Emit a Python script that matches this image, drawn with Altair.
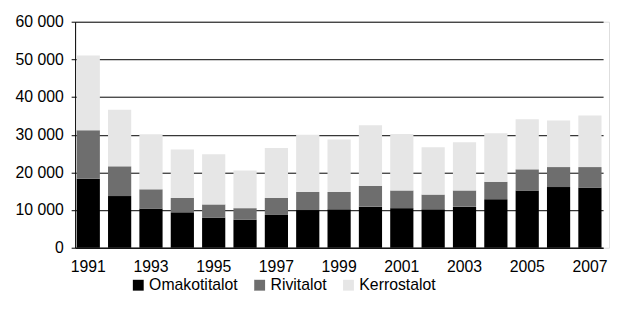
import altair as alt
import pandas as pd

years = [str(y) for y in range(1991, 2008)]
omakotitalot = [18300, 13700, 10400, 9400, 8000, 7400, 8700, 10000, 10200, 10900, 10500, 10200, 10900, 12900, 15200, 16100, 15900]
rivitalot = [12900, 7900, 5100, 3800, 3500, 3100, 4500, 4800, 4600, 5500, 4700, 3900, 4300, 4600, 5600, 5300, 5500]
kerrostalot = [19800, 15000, 14600, 12900, 13300, 10000, 13300, 15200, 13900, 16100, 15000, 12600, 12800, 12900, 13300, 12400, 13700]
series = ["Omakotitalot", "Rivitalot", "Kerrostalot"]
colors = ["#000000", "#6e6e6e", "#e6e6e6"]
x_labels = [str(y) for y in range(1991, 2008, 2)]
y_ticks = [0, 10000, 20000, 30000, 40000, 50000, 60000]

rows = []
for i, yr in enumerate(years):
    for k, (name, vals) in enumerate(zip(series, [omakotitalot, rivitalot, kerrostalot])):
        rows.append({"vuosi": yr, "tyyppi": name, "arvo": vals[i], "jarj": k})
df = pd.DataFrame(rows)

chart = alt.Chart(df).mark_bar(stroke=None).encode(
    x=alt.X("vuosi:O", title=None,
            scale=alt.Scale(paddingInner=0.26, paddingOuter=0.05, range=[0, 535]),
            axis=alt.Axis(values=x_labels, labelAngle=0, ticks=False, labelPadding=11,
                          labelFontSize=16, labelColor="black", domainColor="black",
                          labelFont="Liberation Sans")),
    y=alt.Y("arvo:Q", title=None, stack="zero",
            scale=alt.Scale(domain=[0, 60000], nice=False),
            axis=alt.Axis(values=y_ticks, labelExpr="replace(format(datum.value, ','), ',', ' ')",
                          grid=True, gridColor="black", gridOpacity=1, gridWidth=1,
                          tickColor="black", tickSize=4, labelPadding=8, domainColor="black",
                          labelFontSize=16, labelColor="black", labelFont="Liberation Sans")),
    color=alt.Color("tyyppi:N", title=None,
                    scale=alt.Scale(domain=series, range=colors),
                    legend=alt.Legend(orient="none", legendX=56, legendY=259, direction="horizontal",
                                      symbolType="square", symbolSize=121, symbolStrokeWidth=0,
                                      labelFontSize=16, labelColor="black", labelFont="Liberation Sans",
                                      labelOffset=3, columnPadding=14)),
    order=alt.Order("jarj:Q"),
).properties(
    width=541, height=229,
    autosize=alt.AutoSizeParams(type="none"),
    padding={"left": 68, "top": 12, "right": 1, "bottom": 45},
).configure_view(stroke="black", strokeWidth=1).configure(background="white")

chart.save("out.html", embed_options={"renderer": "svg", "actions": False})
